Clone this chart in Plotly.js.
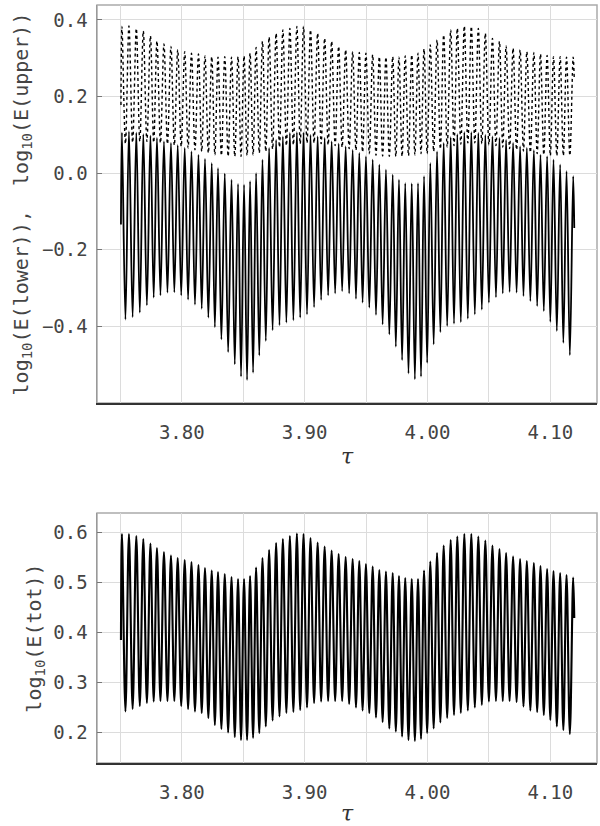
<!DOCTYPE html>
<html>
<head>
<meta charset="utf-8">
<script src="https://cdn.plot.ly/plotly-3.0.1.min.js"></script>
<style>html,body{margin:0;padding:0;background:#fff;}#chart{width:600px;height:826px;}</style>
</head>
<body>
<div id="chart"></div>
<script>
// tau of each oscillation maximum (shared by all three curves)
const peakTau = [3.7513,3.7570,3.7630,3.7687,3.7745,3.7798,3.7855,3.7912,3.7967,3.8024,
3.8079,3.8136,3.8189,3.8244,3.8295,3.8350,3.8405,3.8458,3.8507,3.8556,
3.8605,3.8657,3.8711,3.8768,3.8823,3.8880,3.8937,3.8991,3.9048,3.9106,
3.9163,3.9220,3.9277,3.9334,3.9391,3.9445,3.9499,3.9554,3.9608,3.9662,
3.9717,3.9768,3.9819,3.9872,3.9923,3.9972,4.0023,4.0078,4.0132,4.0189,
4.0243,4.0300,4.0357,4.0414,4.0471,4.0529,4.0586,4.0640,4.0697,4.0754,
4.0809,4.0866,4.0920,4.0974,4.1026,4.1080,4.1132,4.1186];
const tauStart = 3.7505;
const tauEnd = 4.1195;

// log10(E(lower)) : solid curve, top panel
const lowerPeaks = [0.106,0.109,0.106,0.102,0.098,0.092,0.083,0.079,0.073,0.066,0.057,0.048,0.037,0.026,0.013,-0.001,-0.017,-0.028,-0.030,-0.021,0.000,0.035,
0.066,0.087,0.096,0.105,0.107,0.106,0.100,0.096,0.092,0.083,0.077,0.070,0.061,0.053,0.044,0.035,0.022,0.009,-0.004,-0.017,-0.026,-0.027,-0.026,-0.008,
0.026,0.057,0.079,0.094,0.102,0.107,0.107,0.105,0.100,0.096,0.092,0.087,0.079,0.070,0.066,0.060,0.048,0.044,0.035,0.022,0.005,-0.008];
const lowerTroughs = [-0.382,-0.376,-0.364,-0.345,-0.325,-0.319,-0.312,-0.311,-0.319,-0.330,-0.343,-0.354,-0.377,-0.402,-0.434,-0.467,-0.499,-0.531,-0.540,-0.521,-0.476,
-0.438,-0.410,-0.397,-0.390,-0.384,-0.377,-0.369,-0.350,-0.331,-0.319,-0.314,-0.308,-0.314,-0.328,-0.338,-0.351,-0.370,-0.395,-0.421,-0.453,-0.488,-0.523,-0.538,-0.531,
-0.495,
-0.447,-0.415,-0.399,-0.393,-0.389,-0.380,-0.369,-0.356,-0.338,-0.324,-0.314,-0.310,-0.312,-0.321,-0.334,-0.347,-0.360,-0.388,-0.412,-0.443,-0.475];
const lowerStart = -0.134, lowerEnd = -0.143;

// log10(E(upper)) : dotted curve, top panel
const upperPeaks = [0.383,0.384,0.378,0.371,0.358,0.345,0.337,0.331,0.322,0.317,0.313,0.311,0.306,0.304,0.303,0.304,0.303,0.304,0.306,0.313,0.328,0.344,
0.355,0.365,0.374,0.378,0.383,0.383,0.374,0.365,0.352,0.344,0.331,0.322,0.317,0.315,0.313,0.309,0.304,0.303,0.304,0.303,0.306,0.309,0.313,0.324,
0.335,0.348,0.361,0.374,0.378,0.384,0.383,0.378,0.365,0.352,0.344,0.332,0.326,0.322,0.317,0.315,0.311,0.307,0.304,0.304,0.303,0.303];
const upperTroughs = [0.077,0.080,0.083,0.083,0.080,0.079,0.076,0.073,0.070,0.066,0.061,0.057,0.053,0.048,0.046,0.044,0.044,0.044,0.046,0.048,0.053,
0.057,
0.063,0.068,0.072,0.074,0.077,0.079,0.079,0.077,0.074,0.072,0.068,0.064,0.060,0.055,0.051,0.047,0.045,0.044,0.044,0.044,0.046,0.048,0.051,
0.051,
0.057,0.063,0.068,0.072,0.076,0.079,0.079,0.077,0.074,0.072,0.068,0.064,0.061,0.058,0.054,0.051,0.048,0.046,0.046,0.046,0.046];
const upperStart = 0.178, upperEnd = 0.244;

// log10(E(tot)) : bottom panel
const totPeaks = [0.597,0.597,0.593,0.587,0.578,0.569,0.561,0.554,0.549,0.545,0.541,0.535,0.529,0.524,0.521,0.517,0.511,0.507,0.507,0.513,0.530,0.549,
0.565,0.579,0.587,0.593,0.598,0.597,0.589,0.580,0.572,0.564,0.557,0.551,0.547,0.543,0.537,0.532,0.525,0.522,0.519,0.513,0.509,0.507,0.507,0.524,
0.542,0.559,0.574,0.585,0.592,0.597,0.597,0.592,0.584,0.574,0.567,0.559,0.552,0.547,0.543,0.539,0.533,0.527,0.523,0.519,0.515,0.510];
const totTroughs = [0.242,0.247,0.253,0.259,0.262,0.263,0.263,0.263,0.253,0.247,0.242,0.239,0.229,0.215,0.207,0.200,0.191,0.185,0.185,0.189,0.199,
0.212,0.224,0.232,0.239,0.241,0.245,0.250,0.259,0.262,0.263,0.263,0.263,0.257,0.250,0.244,0.239,0.230,0.221,0.208,0.202,0.192,0.185,0.183,0.187,
0.199,
0.208,0.220,0.229,0.235,0.239,0.244,0.250,0.255,0.262,0.263,0.263,0.263,0.261,0.252,0.244,0.241,0.235,0.225,0.212,0.205,0.197];
const totStart = 0.385, totEnd = 0.429;

const xTickVals = [3.80, 3.90, 4.00, 4.10];
const yTopTicks = [-0.4, -0.2, 0.0, 0.2, 0.4];
const yBotTicks = [0.2, 0.3, 0.4, 0.5, 0.6];

function series(peaks, troughs, y0, y1) {
  const x = [tauStart], y = [y0];
  for (let i = 0; i < peakTau.length; i++) {
    x.push(peakTau[i]); y.push(peaks[i]);
    if (i < peakTau.length - 1 && troughs[i] !== undefined) {
      x.push((peakTau[i] + peakTau[i + 1]) / 2); y.push(troughs[i]);
    }
  }
  x.push(tauEnd); y.push(y1);
  return {x, y};
}

const L = series(lowerPeaks, lowerTroughs, lowerStart, lowerEnd);
const U = series(upperPeaks, upperTroughs, upperStart, upperEnd);
const T = series(totPeaks, totTroughs, totStart, totEnd);

const traces = [
  {x: U.x, y: U.y, xaxis: 'x', yaxis: 'y', mode: 'lines', line: {color: '#000', width: 1.4, dash: 'dot', shape: 'spline', smoothing: 1}, hoverinfo: 'skip'},
  {x: L.x, y: L.y, xaxis: 'x', yaxis: 'y', mode: 'lines', line: {color: '#000', width: 1.8, shape: 'spline', smoothing: 1}, hoverinfo: 'skip'},
  {x: T.x, y: T.y, xaxis: 'x2', yaxis: 'y2', mode: 'lines', line: {color: '#000', width: 2.1, shape: 'spline', smoothing: 1}, hoverinfo: 'skip'}
];

const tickFont = {family: 'DejaVu Sans Mono, monospace', size: 19, color: '#444'};
const titleFont = {family: 'DejaVu Sans Mono, monospace', size: 20, color: '#444'};
const xDom = [97/600, 597/600];

function xAxis(anchor) {
  return {
    domain: xDom, anchor: anchor, range: [3.731, 4.138],
    tickvals: xTickVals, tickformat: '.2f', ticks: '', ticklabelstandoff: 12,
    showgrid: true, gridcolor: '#dcdcdc', gridwidth: 1,
    minor: {dtick: 0.05, tick0: 3.75, showgrid: true, gridcolor: '#dcdcdc', gridwidth: 1, ticks: ''},
    showline: true, linecolor: '#333', linewidth: 1.5, mirror: false,
    zeroline: false, tickfont: tickFont,
    title: {text: '<i>τ</i>', font: {family: 'DejaVu Serif, serif', size: 22, color: '#333'}, standoff: 6}
  };
}

const layout = {
  width: 600, height: 826,
  margin: {l: 0, r: 0, t: 0, b: 0},
  paper_bgcolor: '#fff', plot_bgcolor: '#fff',
  showlegend: false,
  xaxis: xAxis('y'),
  xaxis2: xAxis('y2'),
  yaxis: {
    domain: [1 - 403/826, 1 - 5/826], anchor: 'x', range: [-0.6, 0.439],
    tickvals: yTopTicks, tickformat: '.1f', ticks: 'inside', ticklen: 5, tickcolor: '#777',
    ticklabelstandoff: 4,
    showgrid: true, gridcolor: '#dcdcdc', zeroline: false,
    showline: true, linecolor: '#999', linewidth: 1.5,
    tickfont: tickFont,
    title: {text: 'log<sub>10</sub>(E(lower)),  log<sub>10</sub>(E(upper))', font: titleFont, standoff: 8}
  },
  yaxis2: {
    domain: [1 - 763/826, 1 - 513/826], anchor: 'x2', range: [0.139, 0.639],
    tickvals: yBotTicks, tickformat: '.1f', ticks: 'inside', ticklen: 5, tickcolor: '#777',
    ticklabelstandoff: 4,
    showgrid: true, gridcolor: '#dcdcdc', zeroline: false,
    showline: true, linecolor: '#999', linewidth: 1.5,
    tickfont: tickFont,
    title: {text: 'log<sub>10</sub>(E(tot))', font: titleFont, standoff: 6}
  },
  shapes: [
    {type: 'rect', xref: 'x domain', yref: 'y domain', x0: 0, x1: 1, y0: 0, y1: 1, line: {color: '#aaa', width: 1.5}, layer: 'below'},
    {type: 'rect', xref: 'x2 domain', yref: 'y2 domain', x0: 0, x1: 1, y0: 0, y1: 1, line: {color: '#aaa', width: 1.5}, layer: 'below'}
  ]
};

Plotly.newPlot('chart', traces, layout, {staticPlot: true, displayModeBar: false});
</script>
</body>
</html>
